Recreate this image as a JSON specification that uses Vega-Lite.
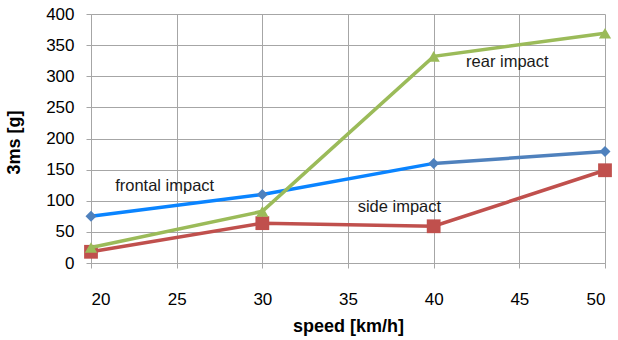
{
  "$schema": "https://vega.github.io/schema/vega-lite/v6.json",
  "width": 514,
  "height": 249,
  "autosize": {"type": "none"},
  "padding": {"left": 91, "top": 14, "right": 13, "bottom": 77},
  "background": "white",
  "config": {
    "font": "Liberation Sans",
    "view": {"stroke": null},
    "axis": {
      "gridColor": "#A6A6A6",
      "gridWidth": 1,
      "domainColor": "#A6A6A6",
      "tickColor": "#A6A6A6",
      "tickSize": 5,
      "labelColor": "#000000",
      "labelFontSize": 17,
      "titleColor": "#000000",
      "titleFontSize": 18,
      "titleFontWeight": "bold"
    }
  },
  "datasets": {
    "points": [
      {"series": "frontal impact", "speed": 20, "g": 75},
      {"series": "frontal impact", "speed": 30, "g": 110},
      {"series": "frontal impact", "speed": 40, "g": 160},
      {"series": "frontal impact", "speed": 50, "g": 179},
      {"series": "side impact", "speed": 20, "g": 18},
      {"series": "side impact", "speed": 30, "g": 64},
      {"series": "side impact", "speed": 40, "g": 59},
      {"series": "side impact", "speed": 50, "g": 149},
      {"series": "rear impact", "speed": 20, "g": 25},
      {"series": "rear impact", "speed": 30, "g": 83},
      {"series": "rear impact", "speed": 40, "g": 332},
      {"series": "rear impact", "speed": 50, "g": 369}
    ],
    "labels": [
      {"text": "frontal impact", "speed": 24.3, "g": 124},
      {"text": "side impact", "speed": 38.0, "g": 90},
      {"text": "rear impact", "speed": 44.3, "g": 323}
    ]
  },
  "data": {"name": "points"},
  "encoding": {
    "x": {
      "field": "speed",
      "type": "quantitative",
      "scale": {"domain": [20, 50], "nice": false, "zero": false},
      "axis": {"title": "speed [km/h]", "values": [20, 25, 30, 35, 40, 45, 50], "labelPadding": 23, "titlePadding": 10}
    },
    "y": {
      "field": "g",
      "type": "quantitative",
      "scale": {"domain": [0, 400], "nice": false},
      "axis": {"title": "3ms [g]", "values": [0, 50, 100, 150, 200, 250, 300, 350, 400], "labelPadding": 12, "titlePadding": 22, "titleY": 128}
    }
  },
  "layer": [
    {
      "transform": [{"filter": "datum.series == 'frontal impact' && datum.speed <= 40"}],
      "mark": {"type": "line", "color": "#0A84FF", "strokeWidth": 3.5}
    },
    {
      "transform": [{"filter": "datum.series == 'frontal impact' && datum.speed >= 40"}],
      "mark": {"type": "line", "color": "#4F81BD", "strokeWidth": 3.5}
    },
    {
      "transform": [{"filter": "datum.series == 'frontal impact'"}],
      "mark": {"type": "point", "shape": "diamond", "filled": true, "color": "#4F81BD", "size": 120, "opacity": 1}
    },
    {
      "transform": [{"filter": "datum.series == 'side impact'"}],
      "mark": {"type": "line", "color": "#C0504D", "strokeWidth": 3.5}
    },
    {
      "transform": [{"filter": "datum.series == 'side impact'"}],
      "mark": {"type": "point", "shape": "square", "filled": true, "color": "#C0504D", "size": 190, "opacity": 1}
    },
    {
      "transform": [{"filter": "datum.series == 'rear impact'"}],
      "mark": {"type": "line", "color": "#9BBB59", "strokeWidth": 3.5}
    },
    {
      "transform": [{"filter": "datum.series == 'rear impact'"}],
      "mark": {"type": "point", "shape": "triangle-up", "filled": true, "color": "#9BBB59", "size": 150, "opacity": 1}
    },
    {
      "data": {"name": "labels"},
      "mark": {"type": "text", "fontSize": 16.5, "color": "#1A1A1A", "align": "center", "baseline": "middle"},
      "encoding": {"text": {"field": "text"}}
    }
  ]
}
